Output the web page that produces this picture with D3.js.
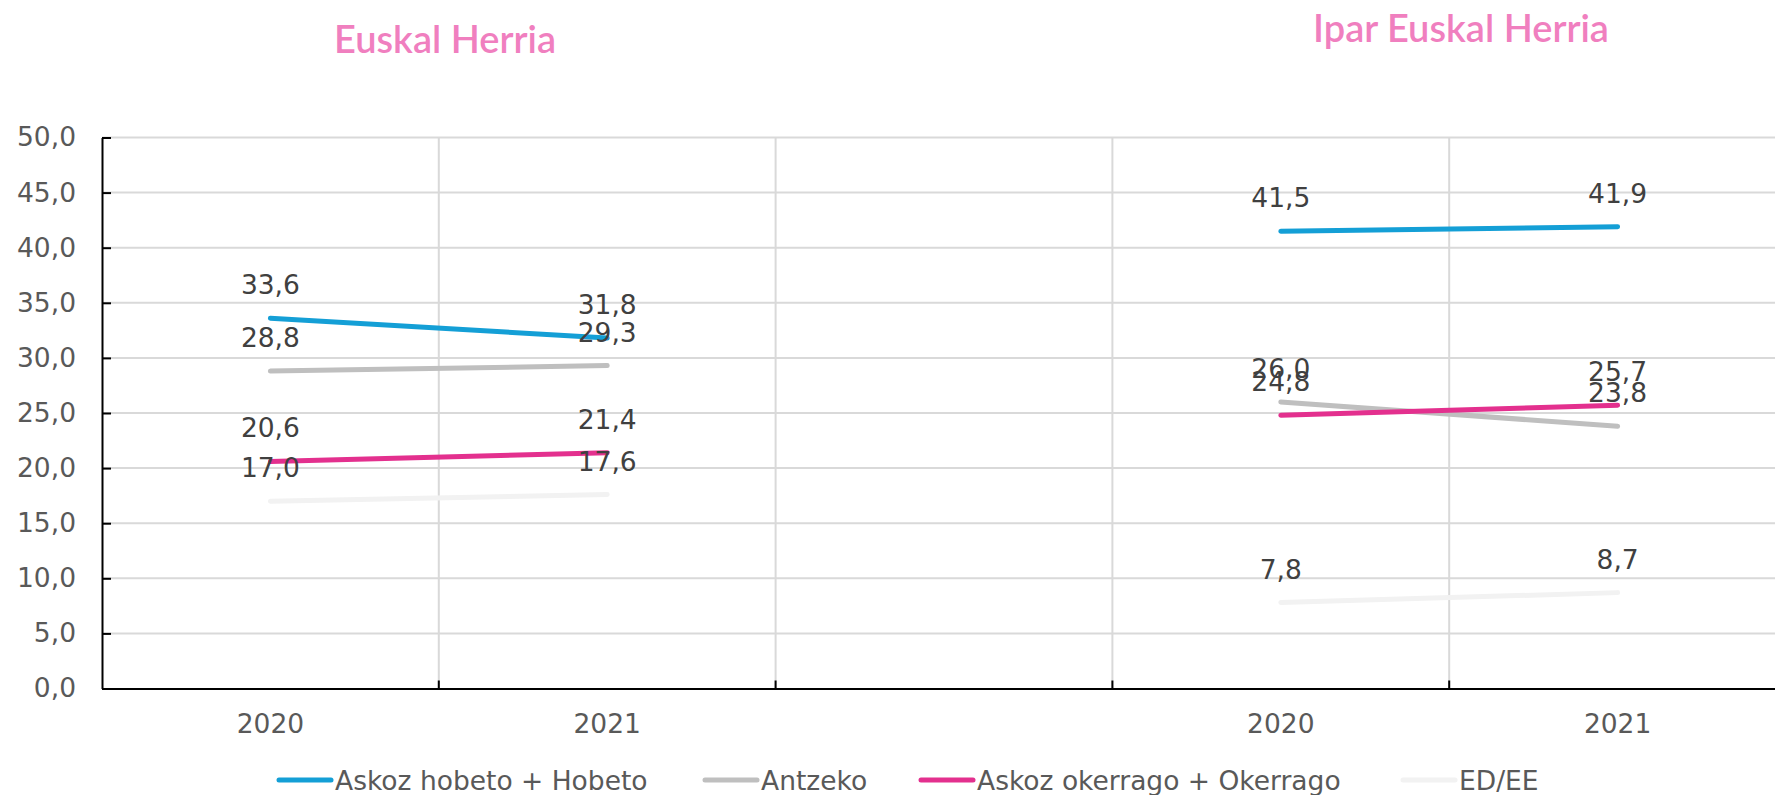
<!DOCTYPE html>
<html>
<head>
<meta charset="utf-8">
<script src="https://cdn.jsdelivr.net/npm/d3@7"></script>
<style>
  body { margin: 0; background: #fff; }
  svg { display: block; }
</style>
</head>
<body>
<svg id="chart" width="1775" height="795"></svg>
<script>
// categories on the x axis (the middle slot is the empty gap between the two panels)
const categories = ["EH-2020", "EH-2021", "gap", "IEH-2020", "IEH-2021"];
const categoryLabels = ["2020", "2021", "", "2020", "2021"];
const panelTitles = ["Euskal Herria", "Ipar Euskal Herria"];
const seriesNames = ["Askoz hobeto + Hobeto", "Antzeko", "Askoz okerrago + Okerrago", "ED/EE"];
const seriesColors = ["#149fd6", "#bfbfbf", "#e3308e", "#f2f2f2"];

// values: [2020, 2021] for Euskal Herria and for Ipar Euskal Herria
const ehValues = [
  [33.6, 31.8],
  [28.8, 29.3],
  [20.6, 21.4],
  [17.0, 17.6]
];
const iehValues = [
  [41.5, 41.9],
  [26.0, 23.8],
  [24.8, 25.7],
  [7.8, 8.7]
];
const yTicks = [0, 5, 10, 15, 20, 25, 30, 35, 40, 45, 50];

const svg = d3.select("#chart");
const margin = { left: 102, top: 137.5, bottom: 688.5, right: 1786 };
const fmt = (v) => d3.format(".1f")(v).replace(".", ",");
const font = "'DejaVu Sans', Verdana, sans-serif";

const x = d3.scaleBand().domain(categories).range([margin.left, margin.right]);
const y = d3.scaleLinear().domain([0, 50]).range([margin.bottom, margin.top]);

// horizontal gridlines
svg.append("g")
  .selectAll("line")
  .data(yTicks.slice(1))
  .enter()
  .append("line")
  .attr("x1", margin.left)
  .attr("x2", margin.right)
  .attr("y1", (d) => y(d))
  .attr("y2", (d) => y(d))
  .attr("stroke", "#d9d9d9")
  .attr("stroke-width", 2);

// vertical gridlines at band boundaries
svg.append("g")
  .selectAll("line")
  .data(categories.slice(1))
  .enter()
  .append("line")
  .attr("x1", (d) => x(d))
  .attr("x2", (d) => x(d))
  .attr("y1", margin.top)
  .attr("y2", margin.bottom)
  .attr("stroke", "#d9d9d9")
  .attr("stroke-width", 2);

// y axis, ticks pointing inward
const yAxis = svg.append("g")
  .attr("transform", `translate(${margin.left},0)`)
  .call(d3.axisLeft(y).tickValues(yTicks).tickFormat(fmt).tickSizeInner(-9).tickSizeOuter(0).tickPadding(26));
yAxis.select(".domain").attr("stroke", "#000").attr("stroke-width", 2);
yAxis.selectAll(".tick line").attr("stroke", "#000").attr("stroke-width", 2);
yAxis.selectAll("text")
  .attr("fill", "#595959")
  .style("font-family", font)
  .style("font-size", "26.5px");

// x axis
const xAxis = svg.append("g")
  .attr("transform", `translate(0,${margin.bottom})`)
  .call(d3.axisBottom(x).tickSize(0).tickPadding(26).tickFormat((d, i) => categoryLabels[i]));
xAxis.select(".domain").attr("stroke", "#000").attr("stroke-width", 2);
xAxis.selectAll("text")
  .attr("fill", "#595959")
  .style("font-family", font)
  .style("font-size", "26.5px");
// inward tick marks at band boundaries
xAxis.selectAll(".bound")
  .data(categories.slice(1))
  .enter()
  .append("line")
  .attr("x1", (d) => x(d))
  .attr("x2", (d) => x(d))
  .attr("y1", 0)
  .attr("y2", -8)
  .attr("stroke", "#000")
  .attr("stroke-width", 2);

// lines + labels for each panel
const line = d3.line()
  .x((d) => x(d.cat) + x.bandwidth() / 2)
  .y((d) => y(d.v));

const panels = [
  { cats: ["EH-2020", "EH-2021"], values: ehValues },
  { cats: ["IEH-2020", "IEH-2021"], values: iehValues }
];

panels.forEach((p) => {
  p.values.forEach((vals, s) => {
    const pts = vals.map((v, i) => ({ cat: p.cats[i], v: v }));
    svg.append("path")
      .attr("d", line(pts))
      .attr("fill", "none")
      .attr("stroke", seriesColors[s])
      .attr("stroke-width", 5)
      .attr("stroke-linecap", "round");
  });
});

panels.forEach((p) => {
  p.values.forEach((vals) => {
    const pts = vals.map((v, i) => ({ cat: p.cats[i], v: v }));
    svg.append("g")
      .selectAll("text")
      .data(pts)
      .enter()
      .append("text")
      .attr("x", (d) => x(d.cat) + x.bandwidth() / 2)
      .attr("y", (d) => y(d.v) - 24)
      .attr("text-anchor", "middle")
      .attr("fill", "#404040")
      .style("font-family", font)
      .style("font-size", "26.5px")
      .text((d) => fmt(d.v));
  });
});

// panel titles
const titlePos = [[445, 53], [1461, 42]];
svg.selectAll(".title")
  .data(panelTitles)
  .enter()
  .append("text")
  .attr("x", (d, i) => titlePos[i][0])
  .attr("y", (d, i) => titlePos[i][1])
  .attr("text-anchor", "middle")
  .attr("fill", "#f07fbf")
  .style("font-family", "Lato, 'Noto Sans', sans-serif")
  .style("font-weight", "600")
  .style("font-size", "38px")
  .text((d) => d);

// legend
const legendX = [277, 703, 919, 1401];
const legend = svg.append("g").attr("transform", "translate(0,780)");
const items = legend.selectAll("g")
  .data(seriesNames)
  .enter()
  .append("g")
  .attr("transform", (d, i) => `translate(${legendX[i]},0)`);
items.append("line")
  .attr("x1", 2).attr("x2", 54)
  .attr("stroke", (d, i) => seriesColors[i])
  .attr("stroke-width", 5)
  .attr("stroke-linecap", "round");
items.append("text")
  .attr("x", 58)
  .attr("dy", "0.36em")
  .attr("fill", "#595959")
  .style("font-family", font)
  .style("font-size", "26.5px")
  .text((d) => d);
</script>
</body>
</html>
